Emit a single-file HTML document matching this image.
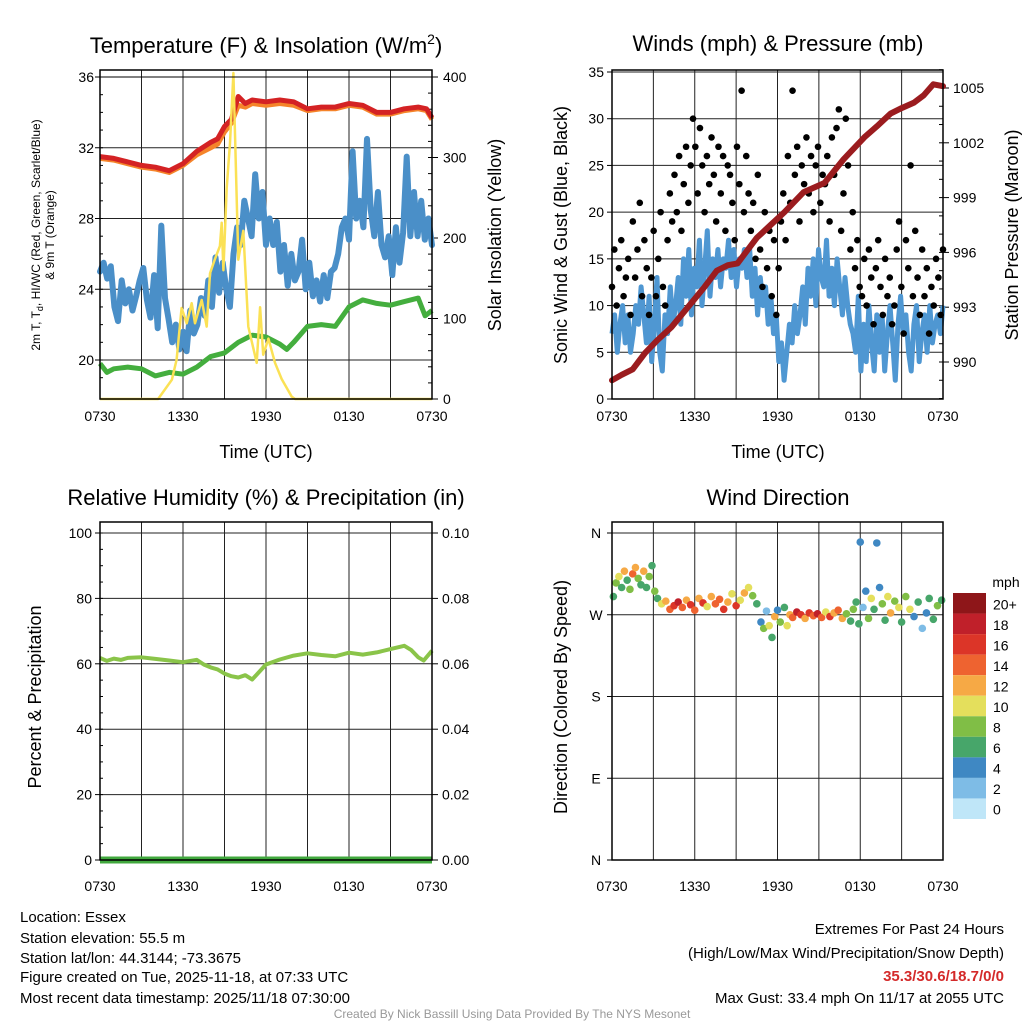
<!DOCTYPE html>
<html><head><meta charset="utf-8"><style>
html,body{margin:0;padding:0;background:#fff}
svg{display:block;font-family:"Liberation Sans",Arial,sans-serif}
</style></head><body>
<svg id="c" width="1024" height="1024" viewBox="0 0 1024 1024" xmlns="http://www.w3.org/2000/svg">
<g id="g"></g>
<g font-size="22" text-anchor="middle" fill="#000">
<text x="266" y="53">Temperature (F) &amp; Insolation (W/m<tspan dy="-9" font-size="14">2</tspan><tspan dy="9">)</tspan></text>
<text x="778" y="51">Winds (mph) &amp; Pressure (mb)</text>
<text x="266" y="505">Relative Humidity (%) &amp; Precipitation (in)</text>
<text x="778" y="505">Wind Direction</text>
</g>
<g font-size="18" text-anchor="middle">
<text x="266" y="458">Time (UTC)</text>
<text x="778" y="458">Time (UTC)</text>
<text transform="translate(501,235) rotate(-90)">Solar Insolation (Yellow)</text>
<text transform="translate(567,235) rotate(-90)">Sonic Wind &amp; Gust (Blue, Black)</text>
<text transform="translate(1018,235) rotate(-90)">Station Pressure (Maroon)</text>
<text transform="translate(41,697) rotate(-90)">Percent &amp; Precipitation</text>
<text transform="translate(567,697) rotate(-90)">Direction (Colored By Speed)</text>
</g>
<g font-size="12" text-anchor="middle">
<text transform="translate(40,235) rotate(-90)">2m T, T<tspan dy="3" font-size="9">d</tspan><tspan dy="-3">, HI/WC (Red, Green, Scarlet/Blue)</tspan></text>
<text transform="translate(54,235) rotate(-90)">&amp; 9m T (Orange)</text>
</g>
<g font-size="15" fill="#000">
<text x="20" y="922">Location: Essex</text>
<text x="20" y="943">Station elevation: 55.5 m</text>
<text x="20" y="963">Station lat/lon: 44.3144; -73.3675</text>
<text x="20" y="982">Figure created on Tue, 2025-11-18, at 07:33 UTC</text>
<text x="20" y="1003">Most recent data timestamp: 2025/11/18 07:30:00</text>
<g text-anchor="end">
<text x="1004" y="934">Extremes For Past 24 Hours</text>
<text x="1004" y="958">(High/Low/Max Wind/Precipitation/Snow Depth)</text>
<text x="1004" y="981" fill="#d42a2a" font-weight="bold">35.3/30.6/18.7/0/0</text>
<text x="1004" y="1003">Max Gust: 33.4 mph On 11/17 at 2055 UTC</text>
</g>
<text x="512" y="1018" font-size="12" fill="#999" text-anchor="middle">Created By Nick Bassill Using Data Provided By The NYS Mesonet</text>
</g>
</svg>
<script>
// ---------- data ----------
const xTickLabels=["0730","1330","1930","0130","0730"];
const tempRedT=[0,1,2,3,4,5,5.5,6,7,8,8.5,9,9.5,10,10.5,11,12,13,14,15,16,17,18,19,20,21,22,23,23.6,24];
const tempRed=[31.5,31.4,31.2,31.0,30.9,30.7,30.9,31.1,31.8,32.3,32.5,33.2,33.6,34.9,34.5,34.7,34.6,34.7,34.6,34.2,34.3,34.3,34.5,34.4,34.0,34.0,34.2,34.3,34.2,33.7];
const tempOrange=[31.4,31.3,31.1,30.9,30.8,30.6,30.8,31.0,31.6,32.0,32.2,32.9,33.4,34.4,34.3,34.5,34.4,34.5,34.4,34.1,34.2,34.2,34.4,34.3,33.9,33.9,34.1,34.2,34.1,33.6];
const dewT=[0,0.5,1,2,3,4,5,6,7,8,9,10,11,12,13,13.5,14,15,16,17,18,19,20,21,22,23,23.5,24];
const dew=[19.8,19.3,19.5,19.6,19.5,19.1,19.3,19.2,19.6,20.2,20.4,21.0,21.4,21.3,20.9,20.6,21.0,21.9,22.0,21.9,23.0,23.4,23.2,23.1,23.3,23.5,22.5,22.8];
const windChill=[25.0,25.5,24.6,25.3,23.0,22.2,24.5,23.2,24.0,22.8,23.6,24.5,25.2,23.4,22.4,24.8,21.8,27.6,23.5,22.3,21.0,22.0,20.6,21.6,20.5,22.8,21.5,22.0,23.5,22.5,24.5,23.0,25.8,23.8,25.5,24.0,23.0,26.0,27.5,26.5,29.0,28.0,27.0,30.5,28.0,29.5,26.5,28.0,26.5,27.8,25.0,26.5,24.2,26.0,24.5,25.0,26.8,24.0,25.5,23.6,24.5,23.3,24.8,23.5,25.0,25.2,26.0,27.5,28.0,26.8,31.8,28.0,29.0,27.5,32.5,28.5,27.0,29.5,26.5,25.8,27.0,24.8,27.5,25.5,27.2,31.5,27.0,29.5,27.0,29.0,26.8,28.0,26.5];
const solarT=[0,4.2,5.2,5.54,5.9,6.27,6.63,6.87,7.35,7.71,7.95,8.31,8.67,8.8,8.92,9.16,9.4,9.64,10.0,10.36,10.72,11.33,11.57,11.8,12.17,12.65,13.13,13.86,14.1,24];
const solar=[0,0,24,49,113,94,119,94,123,90,156,174,190,219,160,262,318,405,173,209,90,45,114,55,75,45,25,3,0,0];
const windSpeed=[7,9,5,8,10,6,9,5,7,10,8,12,9,6,11,4,8,13,5,3,9,7,12,8,10,13,8,15,11,16,9,14,12,17,10,14,18,11,15,13,16,12,15,14,17,13,16,12,15,14,16,13,16,11,14,9,13,10,12,8,11,7,9,4,6,2,5,8,6,10,7,9,12,8,14,11,15,10,16,13,12,17,11,14,10,15,12,9,13,10,8,7,5,11,3,8,4,10,6,3,9,5,9,3,7,10,6,2,8,11,7,9,5,3,8,10,4,7,9,5,10,6,8,9,7,10];
const windGust=[12,16,10,14,17,11,13,15,9,19,13,16,21,11,17,14,9,13,18,11,15,20,12,10,17,22,19,24,20,26,18,23,27,21,25,30,27,22,29,25,20,26,23,28,24,19,27,22,26,18,25,24,21,17,27,23,33,20,26,22,18,21,15,24,16,12,20,14,18,11,17,9,14,19,22,17,26,21,33,24,27,19,25,23,28,22,26,20,25,27,21,24,23,26,19,28,24,29,31,18,22,30,25,16,20,14,17,12,11,15,10,16,13,8,14,17,12,9,15,11,13,8,10,16,19,12,7,17,14,25,11,18,13,9,16,11,14,7,12,10,15,13,9,16];
const pressT=[0,0.7,1.5,2.4,3.3,4.3,5.5,6.7,7.6,8.4,9.1,10.5,11.5,12.5,13.9,15.4,16.8,18.3,19.2,20.2,21.0,21.9,22.6,23.3,24];
const press=[989.0,989.3,989.6,990.5,991.2,991.9,993.0,994.1,995.0,995.3,995.4,996.8,997.5,998.2,999.3,999.8,1001.1,1002.3,1002.9,1003.6,1003.9,1004.2,1004.6,1005.2,1005.1];
const rhT=[0,0.5,1,1.5,2,3,4,5,6,7,7.5,8,8.5,9,9.5,10,10.5,11,12,13,14,15,16,17,18,19,20,21,22,22.5,23,23.4,24];
const rh=[61.8,60.9,61.6,61.2,61.8,62.0,61.5,61.0,60.5,61.2,59.8,58.9,58.3,57.0,56.2,55.8,56.5,55.2,59.8,61.3,62.5,63.2,62.7,62.3,63.4,62.8,63.5,64.5,65.5,64.2,62.0,61.0,64.0];
const precip=[0,0,0,0,0];
const dirT=[0.1,0.3,0.5,0.7,0.9,1.1,1.3,1.5,1.7,1.9,2.1,2.3,2.5,2.7,2.9,3.1,3.3,3.6,3.9,4.2,4.5,4.8,5.1,5.4,5.7,6.0,6.3,6.6,6.9,7.2,7.5,7.8,8.1,8.4,8.7,9.0,9.3,9.6,9.9,10.2,10.5,10.8,11.0,11.2,11.4,11.6,11.8,12.0,12.2,12.5,12.7,12.9,13.1,13.4,13.7,14.0,14.3,14.6,14.9,15.2,15.5,15.8,16.1,16.4,16.7,17.0,17.3,17.5,17.7,17.9,18.0,18.2,18.4,18.6,18.8,19.0,19.2,19.4,19.6,19.8,20.0,20.2,20.5,20.8,21.0,21.3,21.6,21.9,22.2,22.5,22.8,23.0,23.3,23.6,23.9];
const dirVal=[290,305,312,300,318,308,298,315,322,310,303,318,300,312,324,296,288,282,285,276,280,284,278,286,281,275,288,283,279,290,282,287,276,284,293,280,286,294,300,291,282,262,255,274,258,245,268,275,262,278,258,270,267,273,270,266,272,269,271,267,273,268,272,275,266,271,263,276,284,260,350,278,296,266,288,276,349,300,282,264,290,272,285,278,262,290,276,268,284,255,272,288,265,280,286];
const dirSpd=[6,8,10,7,12,6,8,14,12,9,7,13,6,8,6,9,7,10,12,14,16,18,15,12,17,14,13,16,11,12,15,14,17,12,10,16,11,13,10,8,6,4,8,3,10,6,12,4,8,6,10,12,14,18,16,12,17,15,18,14,11,16,13,15,12,9,6,8,6,7,4,3,5,8,10,6,4,4,8,6,10,12,8,10,7,9,11,4,6,3,5,7,6,8,6];
const cbLabels=["20+","18","16","14","12","10","8","6","4","2","0"];
const cbColors=["#8e1619","#c0202a","#dc3528","#ee6330","#f6a945","#e4df5c","#80be46","#47a66a","#3f88c3","#7ebce6","#bfe6f8"];

// ---------- helpers ----------
const NS="http://www.w3.org/2000/svg";
const G=document.getElementById('g');
function el(tag,attrs,parent){const e=document.createElementNS(NS,tag);for(const k in attrs)e.setAttribute(k,attrs[k]);(parent||G).appendChild(e);return e;}
function lin(d0,d1,r0,r1){return v=>r0+(v-d0)/(d1-d0)*(r1-r0);}
function spdColor(s){let i=Math.min(10,Math.floor(s/2));return cbColors[10-i];}
function path(xs,ys,fx,fy){return xs.map((t,i)=>(i?'L':'M')+fx(t).toFixed(1)+','+fy(ys[i]).toFixed(1)).join('');}
function evenT(n){return Array.from({length:n},(_,i)=>i*24/(n-1));}

function frame(x0,y0,x1,y1,name){
  const g=el('g',{});
  
  
  for(let k=1;k<8;k++){const x=x0+(x1-x0)*k/8;el('line',{x1:x,y1:y0,x2:x,y2:y1,stroke:'#222','stroke-width':1},g);}
  return g;
}
function hgrid(g,x0,x1,y){el('line',{x1:x0,y1:y,x2:x1,y2:y,stroke:'#222','stroke-width':1},g);}
function border(x0,y0,x1,y1){const r=el('rect',{x:x0,y:y0,width:x1-x0,height:y1-y0,fill:'none',stroke:'#000','stroke-width':1.5});}
function xlabels(x0,x1,y){xTickLabels.forEach((l,i)=>{const t=el('text',{x:x0+(x1-x0)*i/4,y:y,'font-size':14,'text-anchor':'middle'});t.textContent=l;});}
function ylab(x,y,txt,anchor){const t=el('text',{x:x,y:y+5,'font-size':14,'text-anchor':anchor});t.textContent=txt;}
function tick(x,y,dir,len){el('line',{x1:x,y1:y,x2:x+dir*len,y2:y,stroke:'#000','stroke-width':1});}

// ---------- panel 1: temperature ----------
(function(){
  const x0=100,x1=432,y0=70,y1=399;
  const fx=lin(0,24,x0,x1), fy=lin(20,36,360,77), fs=lin(0,400,399,77);
  const g=frame(x0,y0,x1,y1,'temperature-grid');
  [20,24,28,32,36].forEach(v=>{hgrid(g,x0,x1,fy(v));ylab(x0-6,fy(v),String(v),'end');tick(x0,fy(v),-1,5);});
  for(let v=19;v<=36;v++)tick(x0,fy(v),1,3);
  [0,100,200,300,400].forEach(v=>{ylab(x1+11,fs(v),String(v),'start');tick(x1,fs(v),1,6);});
  for(let v=0;v<=400;v+=20)tick(x1,fs(v),-1,4);
  const wc=el('path',{d:path(evenT(windChill.length),windChill,fx,fy),fill:'none',stroke:'#4a8fc8','stroke-width':6,'stroke-linejoin':'round','stroke-linecap':'round'});
  
  const dw=el('path',{d:path(dewT,dew,fx,fy),fill:'none',stroke:'#44ae3e','stroke-width':5,'stroke-linejoin':'round'});
  
  const or=el('path',{d:path(tempRedT,tempOrange,fx,fy),fill:'none',stroke:'#f5842a','stroke-width':5,'stroke-linejoin':'round'});
  
  const rd=el('path',{d:path(tempRedT,tempRed,fx,fy),fill:'none',stroke:'#d42224','stroke-width':5,'stroke-linejoin':'round'});
  
  const so=el('path',{d:path(solarT,solar,fx,fs),fill:'none',stroke:'#fbe155','stroke-width':2.5,'stroke-linejoin':'round'});
  
  el('line',{x1:x0,y1:77,x2:x1,y2:77,stroke:'#000','stroke-width':1});
  border(x0,y0,x1,y1);xlabels(x0,x1,421);
})();

// ---------- panel 2: winds ----------
(function(){
  const x0=612,x1=943,y0=70,y1=399;
  const fx=lin(0,24,x0,x1), fy=lin(0,35,399,72), fp=lin(990,1005,362,88);
  const g=frame(x0,y0,x1,y1,'winds-grid');
  for(let v=0;v<=35;v+=5){hgrid(g,x0,x1,fy(v));ylab(x0-8,fy(v),String(v),'end');tick(x0,fy(v),-1,5);}
  [990,993,996,999,1002,1005].forEach(v=>{ylab(x1+10,fp(v),String(v),'start');tick(x1,fp(v),1,6);});
  for(let v=988;v<=1006;v++)tick(x1,fp(v),-1,4);
  const ws=el('path',{d:path(evenT(windSpeed.length),windSpeed,fx,fy),fill:'none',stroke:'#4f97d2','stroke-width':5,'stroke-linejoin':'round'});
  
  const gt=evenT(windGust.length);
  windGust.forEach((v,i)=>{const c=el('circle',{cx:fx(gt[i]),cy:fy(v),r:3.3,fill:'#000'});
    
    });
  const pr=el('path',{d:path(pressT,press,fx,fp),fill:'none',stroke:'#9b1c1f','stroke-width':6,'stroke-linejoin':'round','stroke-linecap':'round'});
  
  border(x0,y0,x1,y1);xlabels(x0,x1,421);
})();

// ---------- panel 3: RH ----------
(function(){
  const x0=100,x1=432,y0=522,y1=860;
  const fx=lin(0,24,x0,x1), fy=lin(0,100,860,533), fq=lin(0,0.1,860,533);
  const g=frame(x0,y0,x1,y1,'humidity-grid');
  for(let v=0;v<=100;v+=20){hgrid(g,x0,x1,fy(v));ylab(x0-8,fy(v),String(v),'end');tick(x0,fy(v),-1,5);}
  for(let v=0;v<=100;v+=5)tick(x0,fy(v),1,3);
  ["0.00","0.02","0.04","0.06","0.08","0.10"].forEach(s=>{const v=parseFloat(s);ylab(x1+10,fq(v),s,'start');tick(x1,fq(v),1,6);});
  const rl=el('path',{d:path(rhT,rh,fx,fy),fill:'none',stroke:'#8ac449','stroke-width':4,'stroke-linejoin':'round'});
  
  const pl=el('path',{d:path(evenT(precip.length),precip,fx,fq),fill:'none',stroke:'#41a83e','stroke-width':7});
  
  border(x0,y0,x1,y1);xlabels(x0,x1,891);
})();

// ---------- panel 4: wind direction ----------
(function(){
  const x0=612,x1=943,y0=522,y1=860;
  const fx=lin(0,24,x0,x1), fy=lin(0,360,860,533);
  const g=frame(x0,y0,x1,y1,'direction-grid');
  [["N",0],["E",90],["S",180],["W",270],["N",360]].forEach(([l,v])=>{hgrid(g,x0,x1,fy(v));ylab(x0-16,fy(v),l,'middle');tick(x0,fy(v),-1,5);});
  dirT.forEach((t,i)=>{const c=el('circle',{cx:fx(t),cy:fy(dirVal[i]),r:3.8,fill:spdColor(dirSpd[i])});
    
    });
  border(x0,y0,x1,y1);xlabels(x0,x1,891);
  const lt=el('text',{x:1006,y:587,'font-size':14,'text-anchor':'middle'});lt.textContent='mph';
  
  const bh=(819-593)/11;
  cbLabels.forEach((l,i)=>{
    const r=el('rect',{x:953,y:593+i*bh,width:33,height:bh,fill:cbColors[i]});
    
    
    const t=el('text',{x:993,y:593+i*bh+bh/2+6,'font-size':14});t.textContent=l;
    
    
  });
})();
</script>
</body></html>
